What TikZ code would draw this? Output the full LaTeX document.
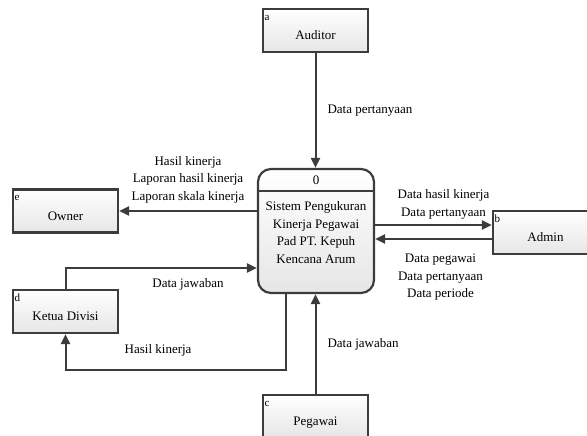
\documentclass[tikz,border=0pt]{standalone}
\usepackage{fontspec}
\setmainfont{Liberation Serif}
\usetikzlibrary{arrows.meta,positioning}
\definecolor{dfdInk}{HTML}{3C3C3C}
\definecolor{dfdShade}{HTML}{E6E6E6}
\tikzset{
  every picture/.style={font=\fontsize{13}{17.5}\selectfont, text=black},
  dfd box/.style={draw=dfdInk, line width=2.2pt, top color=white,
    bottom color=dfdShade, minimum width=105pt, minimum height=43pt,
    inner sep=0pt, text height=20pt, text depth=2pt},
  dfd process/.style={draw=dfdInk, line width=2.2pt, rounded corners=13pt,
    top color=white, bottom color=dfdShade, minimum width=116pt,
    minimum height=124pt, inner sep=0pt},
  dfd tag/.style={font=\fontsize{11}{12}\selectfont, anchor=north west,
    inner xsep=2.5pt, inner ysep=3pt, text height=9pt},
  dfd flow/.style={-{Triangle[length=10pt,width=9pt]},
    draw=dfdInk, line width=2pt},
  dfd label/.style={align=center, inner sep=0pt}
}
\begin{document}
\begin{tikzpicture}[x=1pt,y=-1pt]
  \useasboundingbox (0,0) rectangle (587,436);
  \node[dfd box] (auditor) at (315.5,30.5) {Auditor};
  \node[dfd box] (owner) at (65.5,211) {Owner};
  \node[dfd box] (ketua) at (65.5,311.5) {Ketua Divisi};
  \node[dfd box] (admin) at (545.5,232.5) {Admin};
  \node[dfd box] (pegawai) at (315.5,416.5) {Pegawai};
  \node[dfd tag] (tag a) at (auditor.north west) {a};
  \node[dfd tag] (tag e) at (owner.north west) {e};
  \node[dfd tag] (tag d) at (ketua.north west) {d};
  \node[dfd tag] (tag b) at (admin.north west) {b};
  \node[dfd tag] (tag c) at (pegawai.north west) {c};
  \node[dfd process] (proses) at (316,231) {};
  \draw[draw=dfdInk, line width=2.2pt] ([yshift=-23pt]proses.north west) -- ([yshift=-23pt]proses.north east);
  \node[dfd label] (proses id) at ([yshift=-12pt]proses.north) {0};
  \node[dfd label, below=17pt of proses id] (proses name) {Sistem Pengukuran\\Kinerja Pegawai\\Pad PT. Kepuh\\Kencana Arum};
  \coordinate (admin in) at ([yshift=7.5pt]admin.west);
  \coordinate (admin out) at ([yshift=-6.5pt]admin.west);
  \coordinate (ketua in) at ([yshift=-37pt]proses.west);
  \draw[dfd flow] (auditor.south) -- (auditor.south |- proses.north)
    node[dfd label, midway, right=11pt] (lbl audit) {Data pertanyaan};
  \draw[dfd flow] (proses.west |- owner.east) -- (owner.east)
    node[dfd label, midway, above=7pt] (lbl owner) {Hasil kinerja\\Laporan hasil kinerja\\Laporan skala kinerja};
  \draw[dfd flow] (ketua.north) |- (ketua in)
    node[dfd label, pos=0.82, below=9pt] (lbl ketua in) {Data jawaban};
  \draw[dfd flow] ([xshift=-30pt]proses.south) -- ++(0,76) -| (ketua.south)
    node[dfd label, pos=0.29, above=13pt] (lbl ketua out) {Hasil kinerja};
  \draw[dfd flow] (pegawai.north) -- (pegawai.north |- proses.south)
    node[dfd label, midway, right=11pt] (lbl pegawai) {Data jawaban};
  \draw[dfd flow] (proses.east |- admin in) -- (admin in)
    node[dfd label, midway, above=5pt, xshift=10pt] (lbl admin in) {Data hasil kinerja\\Data pertanyaan};
  \draw[dfd flow] (admin out) -- (proses.east |- admin out)
    node[dfd label, midway, below=14pt, xshift=7pt] (lbl admin out) {Data pegawai\\Data pertanyaan\\Data periode};
\end{tikzpicture}
\end{document}
